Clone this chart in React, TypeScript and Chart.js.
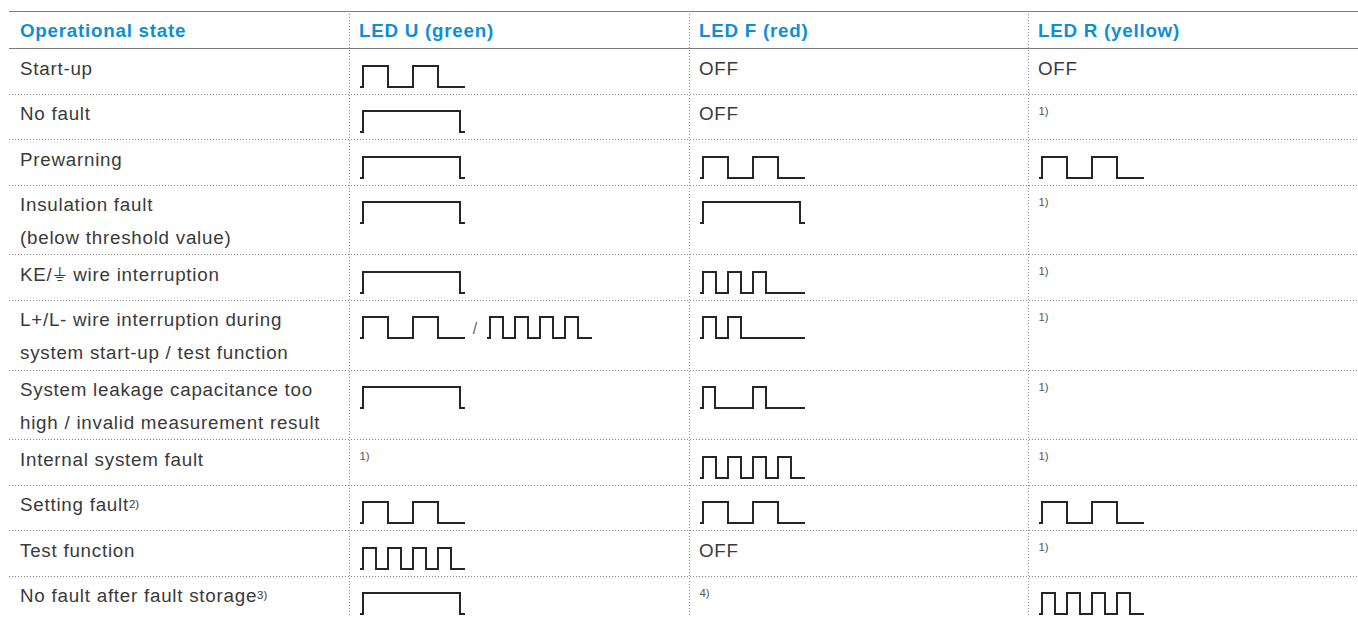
import React, { useEffect, useRef } from 'react';
import { Chart, registerables } from 'chart.js';

Chart.register(...registerables);

// ---------- data ----------
const headers = ['Operational state', 'LED U (green)', 'LED F (red)', 'LED R (yellow)'];

const states: string[][] = [
  ['Start-up'],
  ['No fault'],
  ['Prewarning'],
  ['Insulation fault', '(below threshold value)'],
  ['KE/\u23DA wire interruption'],
  ['L+/L- wire interruption during', 'system start-up / test function'],
  ['System leakage capacitance too', 'high / invalid measurement result'],
  ['Internal system fault'],
  ['Setting fault'],
  ['Test function'],
  ['No fault after fault storage'],
];
const stateNotes = ['', '', '', '', '', '', '', '', '2)', '', '3)'];

// cell content: wave key(s) joined with "/", or text ("OFF"), or footnote ("1)", "4)")
const ledU = ['slow', 'on', 'on', 'on', 'on', 'slow/fast4', 'on', '1)', 'slow', 'fast4', 'on'];
const ledF = ['OFF', 'OFF', 'slow', 'on', 'fast3', 'fast2', 'pulse2', 'fast4', 'slow', 'OFF', '4)'];
const ledR = ['OFF', '1)', 'slow', '1)', '1)', '1)', '1)', '1)', 'slow', '1)', 'fast4'];

// waveforms: [time, level] transitions
const waveOn = [[0, 0], [3, 1], [100, 0], [105, 0]];
const waveSlow = [[0, 0], [3, 1], [28, 0], [53, 1], [78, 0], [105, 0]];
const waveFast4 = [[0, 0], [3, 1], [16, 0], [28, 1], [41, 0], [53, 1], [66, 0], [78, 1], [91, 0], [105, 0]];
const waveFast3 = [[0, 0], [3, 1], [16, 0], [28, 1], [41, 0], [53, 1], [66, 0], [105, 0]];
const waveFast2 = [[0, 0], [3, 1], [16, 0], [28, 1], [41, 0], [105, 0]];
const wavePulse2 = [[0, 0], [3, 1], [15, 0], [53, 1], [66, 0], [105, 0]];

const waves: Record<string, number[][]> = {
  on: waveOn,
  slow: waveSlow,
  fast4: waveFast4,
  fast3: waveFast3,
  fast2: waveFast2,
  pulse2: wavePulse2,
};

const timeMax = 105;

// ---------- layout ----------
const COLS = [9, 349, 689, 1028];
const RIGHT = 1358;
const TOP_LINE = 11;
const HEAD_BOTTOM = 48;
const ROW1 = 45.5;
const ROW2 = 69.8;
const FONT = '"Liberation Sans", Arial, Helvetica, sans-serif';
const TEXT_COLOR = '#3a3a3a';
const BLUE = '#0f8fd2';
const PAD = 5;

function Wave({ points, left, top }: { points: number[][]; left: number; top: number }) {
  const ref = useRef<HTMLCanvasElement>(null);
  useEffect(() => {
    const chart = new Chart(ref.current as HTMLCanvasElement, {
      type: 'line',
      data: {
        datasets: [
          {
            data: points.map(([x, y]) => ({ x, y })),
            stepped: 'before',
            borderColor: '#262626',
            borderWidth: 2,
            pointRadius: 0,
            fill: false,
            borderJoinStyle: 'miter',
            borderCapStyle: 'butt',
            clip: false,
          } as any,
        ],
      },
      options: {
        responsive: false,
        animation: false,
        events: [],
        layout: { padding: PAD },
        plugins: { legend: { display: false }, tooltip: { enabled: false } },
        scales: {
          x: { type: 'linear', min: 0, max: timeMax, display: false },
          y: { type: 'linear', min: 0, max: 1, display: false },
        },
      },
    });
    return () => chart.destroy();
  }, [points]);
  return (
    <canvas
      ref={ref}
      width={timeMax + PAD * 2}
      height={21 + PAD * 2}
      style={{ position: 'absolute', left, top, width: timeMax + PAD * 2, height: 21 + PAD * 2 }}
    />
  );
}

function Cell({ value, col, top }: { value: string; col: number; top: number }) {
  const x = COLS[col];
  if (value === 'OFF') {
    return (
      <div style={{ position: 'absolute', left: x + 10, top: top + 3.5, lineHeight: '33px', fontSize: 18.8, letterSpacing: 0.75, color: TEXT_COLOR, whiteSpace: 'nowrap' }}>
        {value}
      </div>
    );
  }
  if (/^\d\)$/.test(value)) {
    return (
      <div style={{ position: 'absolute', left: x + 10.5, top: top + 11, lineHeight: '13px', fontSize: 11.4, color: '#555', whiteSpace: 'nowrap' }}>
        {value}
      </div>
    );
  }
  const keys = value.split('/');
  const out: React.ReactNode[] = [];
  keys.forEach((k, i) => {
    const offset = i * 126.7;
    if (i > 0) {
      out.push(
        <span key={'s' + i} style={{ position: 'absolute', left: x + 11 + offset - 14, top: Math.round(top) + 20.5, fontSize: 16, lineHeight: '16px', color: '#666' }}>
          /
        </span>
      );
    }
    out.push(<Wave key={'w' + i} points={waves[k]} left={Math.round(x + 11 + offset - PAD)} top={Math.round(top + 17.5 - PAD)} />);
  });
  return <>{out}</>;
}

export default function App() {
  const tops: number[] = [];
  let y = HEAD_BOTTOM;
  const heights = states.map((s) => (s.length === 1 ? ROW1 : ROW2));
  heights.forEach((h) => {
    tops.push(y);
    y += h;
  });

  const dotH = 'repeating-linear-gradient(90deg, #8a8a8a 0 1px, transparent 1px 3px)';
  const dotV = 'repeating-linear-gradient(180deg, #8a8a8a 0 1px, transparent 1px 3px)';

  return (
    <div style={{ position: 'fixed', left: 0, top: 0, width: 1358, height: 617, overflow: 'hidden', background: '#fff', fontFamily: FONT }}>
      {/* solid lines */}
      <div style={{ position: 'absolute', left: COLS[0], top: TOP_LINE, width: RIGHT - COLS[0], height: 1, background: '#7f7f7f' }} />
      <div style={{ position: 'absolute', left: COLS[0], top: HEAD_BOTTOM, width: RIGHT - COLS[0], height: 1, background: '#7a7a7a' }} />
      {/* vertical dotted separators */}
      {COLS.slice(1).map((cx) => (
        <div key={cx} style={{ position: 'absolute', left: cx, top: TOP_LINE, width: 1, height: 617 - TOP_LINE, backgroundImage: dotV }} />
      ))}
      {/* row dividers */}
      {tops.map((t, i) => (
        <div key={'d' + i} style={{ position: 'absolute', left: COLS[0], top: Math.round(t + heights[i]), width: RIGHT - COLS[0], height: 1, backgroundImage: dotH }} />
      ))}
      {/* header */}
      {headers.map((h, i) => (
        <div key={h} style={{ position: 'absolute', left: COLS[i] + (i === 0 ? 11 : 10), top: TOP_LINE + 0.7, lineHeight: '37px', fontSize: 18.8, letterSpacing: 0.75, fontWeight: 'bold', color: BLUE, whiteSpace: 'nowrap' }}>
          {h}
        </div>
      ))}
      {/* rows */}
      {states.map((lines, i) => (
        <React.Fragment key={'r' + i}>
          <div style={{ position: 'absolute', left: COLS[0] + 11, top: tops[i] + 3.5, lineHeight: '33px', fontSize: 18.8, letterSpacing: 0.75, color: TEXT_COLOR, whiteSpace: 'nowrap' }}>
            {lines.map((l, j) => (
              <div key={j}>
                {l}
                {j === lines.length - 1 && stateNotes[i] ? (
                  <span style={{ fontSize: 11.4, letterSpacing: 0, verticalAlign: '3px', lineHeight: '10px' }}>{stateNotes[i]}</span>
                ) : null}
              </div>
            ))}
          </div>
          <Cell value={ledU[i]} col={1} top={tops[i]} />
          <Cell value={ledF[i]} col={2} top={tops[i]} />
          <Cell value={ledR[i]} col={3} top={tops[i]} />
        </React.Fragment>
      ))}
    </div>
  );
}
